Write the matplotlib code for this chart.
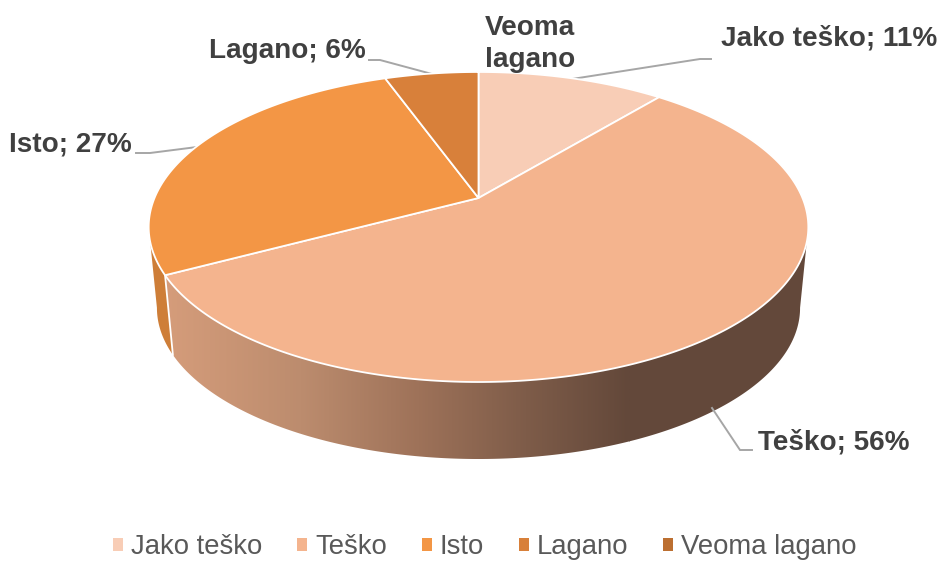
#!/usr/bin/env python3
"""3D-look pie of perceived difficulty, with perspective rim and shaded side wall."""
import numpy as np
import matplotlib

matplotlib.use("Agg")
import matplotlib.pyplot as plt
from matplotlib.colors import LinearSegmentedColormap
from matplotlib.patches import Patch, Polygon

plt.rcParams["font.family"] = ["Liberation Sans", "DejaVu Sans"]

CATEGORIES = ["Jako teško", "Teško", "Isto", "Lagano", "Veoma lagano"]
VALUES = [11.0, 56.2, 27.3, 5.5, 0.0]  # labels show these rounded
COLORS = ["#F8CDB6", "#F4B48E", "#F39645", "#D8803A", "#BC6F31"]

# pixel geometry of the tilted disc
APEX = (478.5, 198.0)
SX, SY, PERSP = 324.0, 149.6, 0.187
BOTTOM_SCALE, BOTTOM_APEX_Y = 0.975, 279.6

GREY_TEXT = "#404040"
LEADER = "#A6A6A6"


def rim(angles_deg, scale=1.0, apex_y=APEX[1]):
    """Clockwise-from-top angles -> pixel points on the projected circle."""
    a = np.radians(angles_deg)
    x, y = np.sin(a), np.cos(a)
    w = 1 + PERSP * y
    return APEX[0] + scale * SX * x / w, apex_y - scale * SY * y / w


def arc(a0, a1, **kw):
    t = np.linspace(a0, a1, 240)
    return np.column_stack(rim(t, **kw))


edges = np.concatenate([[0], np.cumsum(VALUES)]) * 3.6

fig = plt.figure(figsize=(9.4, 5.63), dpi=100)
ax = fig.add_axes([0, 0, 1, 1])

# side wall: Isto piece at the far left, then the big Teško piece
sweep = np.linspace(0, 360, 1441)
top_x = rim(sweep)[0]
bot_x = rim(sweep, BOTTOM_SCALE, BOTTOM_APEX_Y)[0]
right_top, right_bot = sweep[top_x.argmax()], sweep[bot_x.argmax()]
left_top, left_bot = sweep[top_x.argmin()], sweep[bot_x.argmin()]

kw_bot = dict(scale=BOTTOM_SCALE, apex_y=BOTTOM_APEX_Y)
isto_side = np.vstack([arc(edges[2], left_top), arc(left_bot, edges[2], **kw_bot)])
ax.add_patch(Polygon(isto_side, closed=True, fc="#CE7E38", ec="none", zorder=1))

tesko_side = np.vstack([arc(right_top, edges[2]), arc(edges[2], right_bot, **kw_bot)])
clip = Polygon(tesko_side, closed=True, fc="none", ec="none", transform=ax.transData)
ax.add_patch(clip)
shade = LinearSegmentedColormap.from_list(
    "side", [(0, "#D69D7B"), (0.3, "#BC8C6E"), (0.55, "#9E7259"), (0.78, "#7E5C49"),
             (1, "#63483A")])
ramp = ax.imshow(np.linspace(0, 1, 256)[None, :], cmap=shade, aspect="auto",
                 extent=(160, 630, 480, 80), zorder=1.5)
ramp.set_clip_path(clip)
# flat dark part beyond the end of the ramp
dark = ax.fill_betweenx([80, 480], 629, 830, color="#63483A", lw=0, zorder=1.4)
dark.set_clip_path(clip)

# white seam between the two side pieces
seam_top, seam_bot = rim(edges[2]), rim(edges[2], **kw_bot)
ax.plot([seam_top[0], seam_bot[0]], [seam_top[1], seam_bot[1]], color="white", lw=1.3, zorder=2)

# top face, one wedge per category
for i, color in enumerate(COLORS):
    if VALUES[i] == 0:
        continue
    pts = np.vstack([[APEX], arc(edges[i], edges[i + 1])])
    ax.add_patch(Polygon(pts, closed=True, fc=color, ec="white", lw=1.3,
                         joinstyle="round", zorder=3))

# leader lines
LEADERS = [
    [(369, 60), (380, 60), (432, 74)],
    [(136, 153), (150, 153), (197, 147)],
    [(711, 59), (700, 59), (572, 79)],
    [(752, 450), (740, 450), (712, 408)],
]
for line in LEADERS:
    xs, ys = zip(*line)
    ax.plot(xs, ys, color=LEADER, lw=1.4, zorder=2.5, solid_joinstyle="miter")

label_font = dict(fontsize=20.1, fontweight="bold", color=GREY_TEXT, zorder=5)
pct = [f"{c}; {v:.0f}%" for c, v in zip(CATEGORIES, VALUES)]
ax.text(829, 39, pct[0], ha="center", va="center", **label_font)
ax.text(833.5, 442, pct[1], ha="center", va="center", **label_font)
ax.text(70, 144, pct[2], ha="center", va="center", **label_font)
ax.text(287, 51, pct[3], ha="center", va="center", **label_font)
ax.text(530, 44, "Veoma\nlagano", ha="center", va="center", linespacing=1.27, **label_font)

ax.set_xlim(0, 940)
ax.set_ylim(563, 0)
ax.axis("off")

handles = [Patch(fc=c, ec="none") for c in COLORS]
fig.legend(handles, CATEGORIES, loc="center", bbox_to_anchor=(485 / 940, 1 - 547 / 563),
           ncols=5, frameon=False, fontsize=19.8, labelcolor="#595959",
           handlelength=0.36, handleheight=0.36, handletextpad=0.3, columnspacing=1.26,
           borderpad=0, borderaxespad=0)

fig.savefig("out.png", dpi=100, facecolor="white")
